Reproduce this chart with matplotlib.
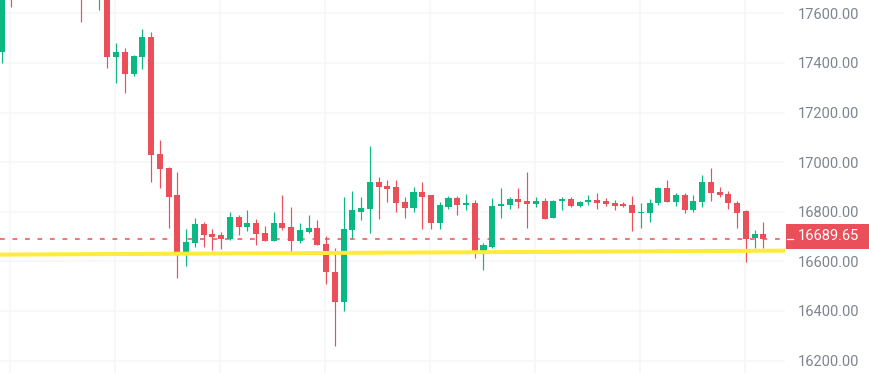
import matplotlib
matplotlib.use("Agg")
import matplotlib.pyplot as plt
import numpy as np
from matplotlib.transforms import blended_transform_factory
from matplotlib.patches import Rectangle
from matplotlib.lines import Line2D

opens = [17445, 17800, 17700, 17760, 17720, 17790, 17740, 17710, 17750, 17800,
         17680, 17700, 17760, 17425, 17445, 17355, 17425, 17504, 17033, 16977,
         16866, 16636, 16675, 16750, 16710, 16705, 16690, 16777, 16740, 16753,
         16713, 16682, 16754, 16740, 16682, 16719, 16734, 16670, 16557, 16437,
         16726, 16800, 16811, 16921, 16905, 16898, 16840, 16816, 16881, 16867,
         16756, 16820, 16854, 16827, 16836, 16643, 16659, 16823, 16827, 16851,
         16844, 16832, 16844, 16776, 16842, 16851, 16823, 16838, 16846, 16842,
         16836, 16831, 16826, 16795, 16794, 16834, 16894, 16840, 16867, 16807,
         16840, 16918, 16881, 16871, 16836, 16803, 16693, 16710]
highs = [17790, 17830, 17790, 17785, 17810, 17800, 17760, 17770, 17820, 17815,
         17720, 17780, 17780, 17479, 17461, 17432, 17535, 17523, 17089, 16981,
         16959, 16731, 16773, 16757, 16731, 16719, 16800, 16787, 16807, 16771,
         16742, 16800, 16867, 16820, 16753, 16787, 16767, 16703, 16652, 16858,
         16884, 16860, 17065, 16939, 16928, 16928, 16860, 16898, 16919, 16867,
         16840, 16865, 16863, 16871, 16847, 16673, 16854, 16897, 16861, 16894,
         16959, 16861, 16854, 16846, 16861, 16861, 16842, 16867, 16874, 16857,
         16847, 16838, 16865, 16834, 16851, 16901, 16928, 16874, 16874, 16867,
         16948, 16975, 16898, 16885, 16844, 16807, 16726, 16760]
lows = [17398, 17624, 17680, 17690, 17700, 17700, 17680, 17690, 17730, 17566,
        17665, 17614, 17378, 17318, 17280, 17347, 17375, 16921, 16894, 16736,
        16531, 16582, 16659, 16659, 16646, 16650, 16686, 16705, 16723, 16666,
        16680, 16680, 16726, 16639, 16675, 16713, 16664, 16509, 16260, 16401,
        16693, 16767, 16713, 16771, 16838, 16800, 16773, 16800, 16729, 16732,
        16732, 16811, 16787, 16807, 16615, 16565, 16652, 16773, 16810, 16814,
        16733, 16820, 16769, 16774, 16807, 16821, 16820, 16827, 16811, 16823,
        16807, 16821, 16723, 16733, 16757, 16827, 16838, 16823, 16796, 16800,
        16820, 16844, 16858, 16811, 16736, 16596, 16652, 16652]
closes = [17760, 17700, 17760, 17720, 17790, 17740, 17710, 17750, 17800, 17680,
          17700, 17760, 17425, 17445, 17355, 17429, 17504, 17029, 16973, 16860,
          16636, 16679, 16750, 16705, 16699, 16690, 16780, 16740, 16753, 16711,
          16682, 16754, 16735, 16682, 16726, 16734, 16666, 16556, 16437, 16730,
          16807, 16816, 16921, 16898, 16892, 16836, 16816, 16881, 16861, 16756,
          16826, 16854, 16827, 16836, 16643, 16666, 16824, 16831, 16851, 16840,
          16832, 16844, 16772, 16844, 16851, 16823, 16840, 16846, 16836, 16832,
          16822, 16823, 16794, 16800, 16834, 16894, 16840, 16866, 16807, 16843,
          16918, 16877, 16866, 16834, 16796, 16690, 16710, 16689.65]

last_price = 16689.65
trend_x = [-0.27, 89.47]
trend_y = [16627, 16643]
yticks = [16200, 16400, 16600, 16800, 17000, 17200, 17400, 17600]

GREEN = "#0bb783"
RED = "#e9505a"
GRID = "#f6f6f6"
LABEL = "#7f8490"

plt.rcParams["font.family"] = ["Roboto", "DejaVu Sans"]
plt.rcParams["lines.scale_dashes"] = False

W, H = 869, 373
fig = plt.figure(figsize=(W / 100, H / 100), dpi=100)
ax = fig.add_axes([0, 0, 785 / W, 1])

o = np.array(opens, float)
h = np.array(highs, float)
l = np.array(lows, float)
c = np.array(closes, float)
x = np.arange(len(o))
up = c >= o
cols = np.where(up, GREEN, RED)

ymin, ymax = 16149.7, 17653.6
ax.set_xlim(-0.274, 89.47)
ax.set_ylim(ymin, ymax)

# grid
for gx in np.arange(0.9, 89, 12):
    ax.axvline(gx, color=GRID, lw=1.1, zorder=0)
for gy in yticks:
    ax.axhline(gy, color=GRID, lw=1.1, zorder=0)

# last price dashed line
ax.axhline(last_price, color=RED, lw=1.1, dashes=(3.4, 5.6), dash_capstyle="butt", zorder=1)

# wicks
ax.vlines(x, l, h, colors=cols, lw=0.85, zorder=2)
# bodies
body_bottom = np.minimum(o, c)
body_h = np.maximum(np.abs(c - o), 4.0)
ax.bar(x, body_h, bottom=body_bottom, width=0.69, color=cols, linewidth=0, zorder=3)

# yellow trend line
ax.plot(trend_x, trend_y, color="#ffeb3b", lw=2.9, solid_capstyle="butt", zorder=5)

for s in ax.spines.values():
    s.set_visible(False)
ax.set_xticks([])
ax.yaxis.tick_right()
ax.set_yticks(yticks)
ax.set_yticklabels([f"{v:.2f}" for v in yticks])
ax.tick_params(axis="y", length=0, pad=9.2, labelsize=10.5, labelcolor=LABEL)

# price label box on axis
tr = blended_transform_factory(fig.transFigure, ax.transData)
px2price = (ymax - ymin) / H
box_h = 25 * px2price
fig.add_artist(Rectangle((785.5 / W, last_price - box_h / 2 + 3 * px2price), (W - 785.5) / W, box_h,
                         transform=tr, facecolor=RED, edgecolor="none", zorder=10))
fig.add_artist(Line2D([787 / W, 793 / W], [last_price, last_price], transform=tr,
                      color="white", lw=0.9, zorder=11))
fig.text(797.5 / W, last_price + 3 * px2price, f"{last_price:.2f}", transform=tr, color="white",
         fontsize=10.5, va="center", ha="left", zorder=12)

fig.savefig("out.png", dpi=100, facecolor="white")
